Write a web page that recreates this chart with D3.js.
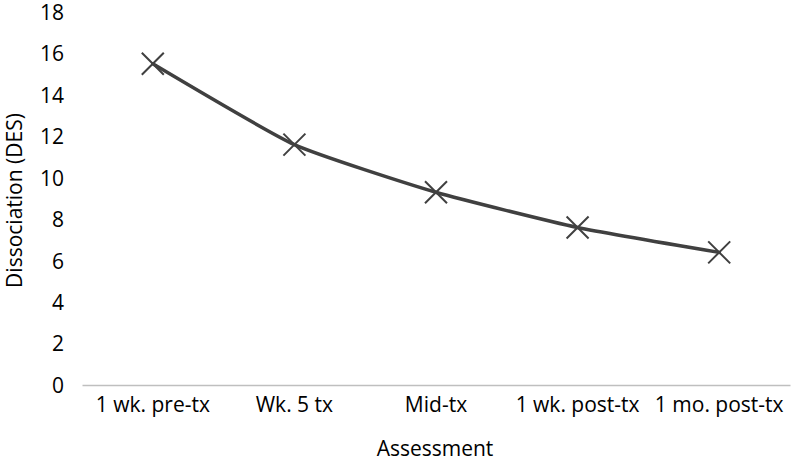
<!DOCTYPE html>
<html lang="en">
<head>
  <meta charset="UTF-8">
  <title>Dissociation (DES) by assessment</title>
  <script src="https://d3js.org/d3.v7.min.js"></script>
  <style>
    body { margin: 0; background: #fff; }
    svg text { font-family: "Open Sans", "Liberation Sans", sans-serif; fill: #000; }
  </style>
</head>
<body>
<svg width="792" height="462"></svg>
<script>
  const assessments = ["1 wk. pre-tx", "Wk. 5 tx", "Mid-tx", "1 wk. post-tx", "1 mo. post-tx"];
  const desScores = [15.5, 11.6, 9.3, 7.6, 6.4];
  const yTicks = [0, 2, 4, 6, 8, 10, 12, 14, 16, 18];

  const svg = d3.select("svg");
  const plotLeft = 82, plotRight = 790, plotTop = 12, plotBottom = 385;
  const fontPx = "21px";

  const x = d3.scaleBand().domain(assessments).range([plotLeft, plotRight]);
  const y = d3.scaleLinear().domain([0, 18]).range([plotBottom, plotTop]);

  // y tick labels (no axis line, like Excel)
  const yAxis = svg.append("g")
    .attr("transform", `translate(${plotLeft},0)`)
    .call(d3.axisLeft(y).tickValues(yTicks).tickSize(0).tickPadding(18));
  yAxis.select(".domain").remove();
  yAxis.selectAll("text").style("font-size", fontPx).attr("dy", "0.35em");

  // x axis
  const xAxis = svg.append("g")
    .attr("transform", `translate(0,${plotBottom})`)
    .call(d3.axisBottom(x).tickSize(0).tickPadding(12));
  xAxis.select(".domain").attr("stroke", "#bfbfbf").attr("stroke-width", 1.3);
  xAxis.selectAll("text").style("font-size", fontPx);

  // smoothed line (Excel style smoothing)
  const line = d3.line()
    .x((d, i) => x(assessments[i]) + x.bandwidth() / 2)
    .y(d => y(d))
    .curve(d3.curveCardinal.tension(0.5));

  svg.append("path")
    .datum(desScores)
    .attr("d", line)
    .attr("fill", "none")
    .attr("stroke", "#404040")
    .attr("stroke-width", 3.5)
    .attr("stroke-linecap", "round");

  // X markers
  const s = 11;
  svg.append("g").selectAll("path")
    .data(desScores)
    .enter()
    .append("path")
    .attr("transform", (d, i) => `translate(${x(assessments[i]) + x.bandwidth() / 2},${y(d)})`)
    .attr("d", `M${-s},${-s}L${s},${s}M${-s},${s}L${s},${-s}`)
    .attr("stroke", "#404040")
    .attr("stroke-width", 2);

  // axis titles
  svg.append("text")
    .attr("x", (plotLeft + plotRight) / 2 - 1)
    .attr("y", 456)
    .attr("text-anchor", "middle")
    .style("font-size", fontPx)
    .text("Assessment");

  svg.append("text")
    .attr("transform", `translate(22,${(plotTop + plotBottom) / 2 + 2}) rotate(-90)`)
    .attr("text-anchor", "middle")
    .style("font-size", fontPx)
    .text("Dissociation (DES)");
</script>
</body>
</html>
